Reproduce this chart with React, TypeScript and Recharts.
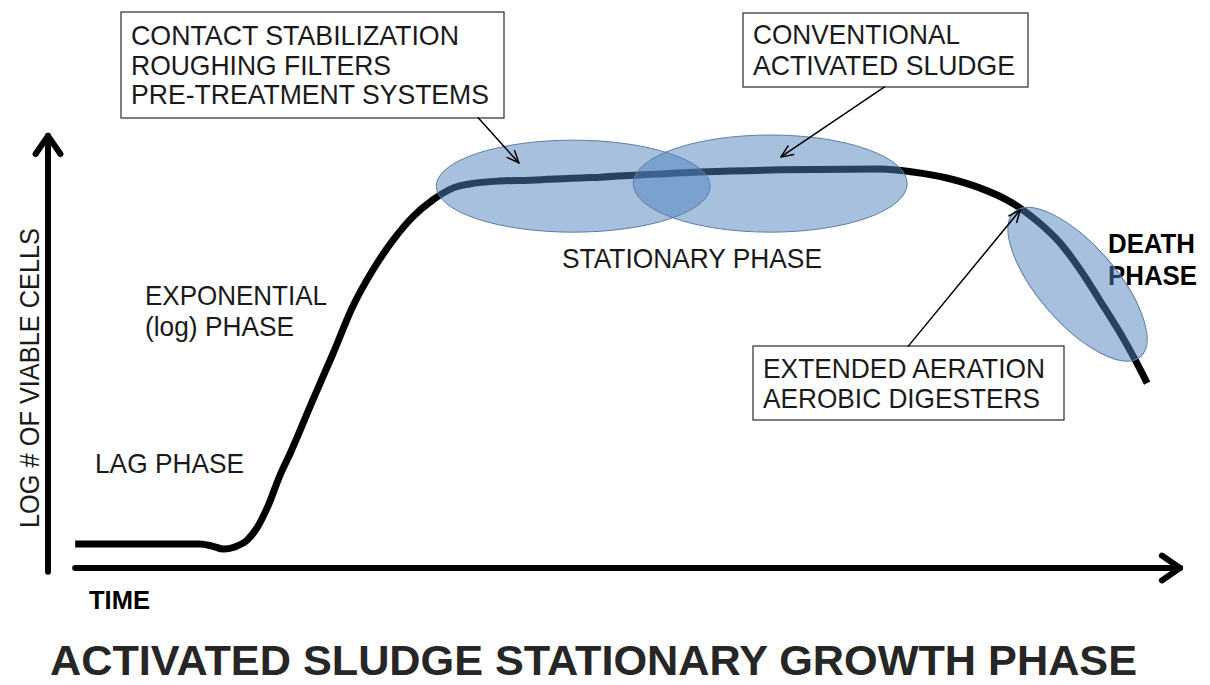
import React from "react";
import { LineChart, Line, XAxis, YAxis, ReferenceArea, ReferenceDot, ReferenceLine, Customized } from "recharts";

// growth curve (time 0-100, log cells 0-10)
const time = [2.4, 13.4, 14.5, 15.5, 16.5, 17.6, 18.5, 19.4, 20.5, 21.4, 23.4, 25.2, 26.9, 28.7, 30.5, 32.2, 34.0, 35.8, 37.7, 39.9, 42.6, 48.8, 57.6, 64.7, 73.5, 76.4, 79.4, 82.3, 84.7, 86.1, 87.6, 89.4, 91.2, 92.9, 94.7, 95.9, 97.1];
const logCells = [0.56, 0.56, 0.51, 0.44, 0.49, 0.65, 0.95, 1.42, 2.16, 2.67, 3.91, 5.0, 6.07, 6.93, 7.63, 8.16, 8.56, 8.84, 8.95, 9.0, 9.02, 9.09, 9.21, 9.26, 9.28, 9.21, 9.07, 8.84, 8.56, 8.33, 8.02, 7.56, 6.93, 6.23, 5.47, 4.91, 4.3];

// process zones on the curve
const zoneNames = ["Contact stabilization", "Conventional activated sludge"];
const zoneStart = [34.3, 51.7];
const zoneEnd = [58.5, 75.9];
const zoneLow = [7.81, 7.81];
const zoneHigh = [9.95, 10.07];
const deathZone = { x: 90.95, y: 6.6 };

// pointer arrows: [from, to]
const pointerFrom = [[38.0, 10.47], [73.9, 11.19], [76.0, 5.16]];
const pointerTo = [[41.6, 9.42], [64.75, 9.56], [85.9, 8.33]];

const data = time.map((t, i) => ({ t, v: logCells[i] }));

const FONT = "'Liberation Sans', Arial, Helvetica, sans-serif";
const BLUE = "#4f81bd";

const arrow = (width: number, head: number, spread: number) => (p: any) => {
  const { x1, y1, x2, y2 } = p;
  const a = Math.atan2(y2 - y1, x2 - x1);
  const hx1 = x2 - head * Math.cos(a - spread);
  const hy1 = y2 - head * Math.sin(a - spread);
  const hx2 = x2 - head * Math.cos(a + spread);
  const hy2 = y2 - head * Math.sin(a + spread);
  return (
    <g stroke="#000" strokeWidth={width} fill="none" strokeLinecap="round" strokeLinejoin="round">
      <line x1={x1} y1={y1} x2={x2} y2={y2} />
      <polyline points={`${hx1},${hy1} ${x2},${y2} ${hx2},${hy2}`} />
    </g>
  );
};

const zoneShape = (p: any) => (
  <ellipse
    cx={p.x + p.width / 2}
    cy={p.y + p.height / 2}
    rx={Math.abs(p.width) / 2}
    ry={Math.abs(p.height) / 2}
    fill={BLUE}
    fillOpacity={0.5}
    stroke="#5b7ea6"
    strokeWidth={1}
  />
);

const deathShape = (p: any) => (
  <ellipse
    cx={p.cx}
    cy={p.cy}
    rx={96}
    ry={39}
    transform={`rotate(49 ${p.cx} ${p.cy})`}
    fill={BLUE}
    fillOpacity={0.5}
    stroke="#5b7ea6"
    strokeWidth={1}
  />
);

const Box = ({ x, y, w, h, lines, widths, base, gap }: any) => (
  <g>
    <rect x={x} y={y} width={w} height={h} fill="#fff" stroke="#3a3a3a" strokeWidth={1.3} />
    {lines.map((s: string, i: number) => (
      <text key={s} x={x + 10} y={base + i * gap} fontSize={28} fill="#1a1a1a" textLength={widths[i]} lengthAdjust="spacingAndGlyphs">
        {s}
      </text>
    ))}
  </g>
);

const Labels = () => (
  <g fontFamily={FONT}>
    <Box x={121} y={12} w={383} h={106} base={45} gap={29.5}
      lines={["CONTACT STABILIZATION", "ROUGHING FILTERS", "PRE-TREATMENT SYSTEMS"]} widths={[328, 260, 358]} />
    <Box x={743} y={13} w={285} h={74} base={44} gap={31}
      lines={["CONVENTIONAL", "ACTIVATED SLUDGE"]} widths={[207, 262]} />
    <Box x={753} y={346} w={311} h={74} base={378} gap={30}
      lines={["EXTENDED AERATION", "AEROBIC DIGESTERS"]} widths={[282, 277]} />
    <g fontSize={28} fill="#1a1a1a">
      <text x={562} y={268} textLength={260} lengthAdjust="spacingAndGlyphs">STATIONARY PHASE</text>
      <text x={145} y={305} textLength={182} lengthAdjust="spacingAndGlyphs">EXPONENTIAL</text>
      <text x={145} y={336} textLength={149} lengthAdjust="spacingAndGlyphs">(log) PHASE</text>
      <text x={95} y={473} textLength={149} lengthAdjust="spacingAndGlyphs">LAG PHASE</text>
      <text x={39} y={378} transform="rotate(-90 39 378)" textAnchor="middle" textLength={300} lengthAdjust="spacingAndGlyphs">LOG # OF VIABLE CELLS</text>
    </g>
    <g fontWeight="bold" fill="#000">
      <text x={1108} y={253} fontSize={28} textLength={87} lengthAdjust="spacingAndGlyphs">DEATH</text>
      <text x={1108} y={285} fontSize={28} textLength={89} lengthAdjust="spacingAndGlyphs">PHASE</text>
      <text x={89} y={609} fontSize={26} textLength={61} lengthAdjust="spacingAndGlyphs">TIME</text>
    </g>
    <text x={50} y={675} fontSize={42} fontWeight="bold" fill="#262626" textLength={1087} lengthAdjust="spacingAndGlyphs">
      ACTIVATED SLUDGE STATIONARY GROWTH PHASE
    </text>
  </g>
);

export default function App() {
  return (
    <div style={{ position: "absolute", left: 0, top: 0, width: 1210, height: 685, background: "#fff" }}>
      <LineChart width={1210} height={685} data={data} margin={{ top: 138, right: 30, bottom: 117, left: 48 }}>
        <XAxis dataKey="t" type="number" domain={[0, 100]} hide />
        <YAxis type="number" domain={[0, 10]} hide />
        <Line
          type="monotone"
          dataKey="v"
          stroke="#000"
          strokeWidth={7}
          dot={false}
          activeDot={false}
          isAnimationActive={false}
        />
        {zoneNames.map((n, i) => (
          <ReferenceArea key={n} x1={zoneStart[i]} x2={zoneEnd[i]} y1={zoneLow[i]} y2={zoneHigh[i]}
            ifOverflow="visible" shape={zoneShape} zIndex={900} />
        ))}
        <ReferenceDot x={deathZone.x} y={deathZone.y} ifOverflow="visible" shape={deathShape} zIndex={900} />
        <ReferenceLine segment={[{ x: 0, y: -0.09 }, { x: 0, y: 10.05 }]} ifOverflow="visible" shape={arrow(6, 22, 0.6)} zIndex={900} />
        <ReferenceLine segment={[{ x: 2.4, y: 0 }, { x: 100, y: 0 }]} ifOverflow="visible" shape={arrow(6, 22, 0.6)} zIndex={900} />
        {pointerFrom.map((f, i) => (
          <ReferenceLine key={i} segment={[{ x: f[0], y: f[1] }, { x: pointerTo[i][0], y: pointerTo[i][1] }]}
            ifOverflow="visible" shape={arrow(1.5, 13, 0.4)} zIndex={900} />
        ))}
        <Customized component={<Labels />} />
      </LineChart>
    </div>
  );
}
